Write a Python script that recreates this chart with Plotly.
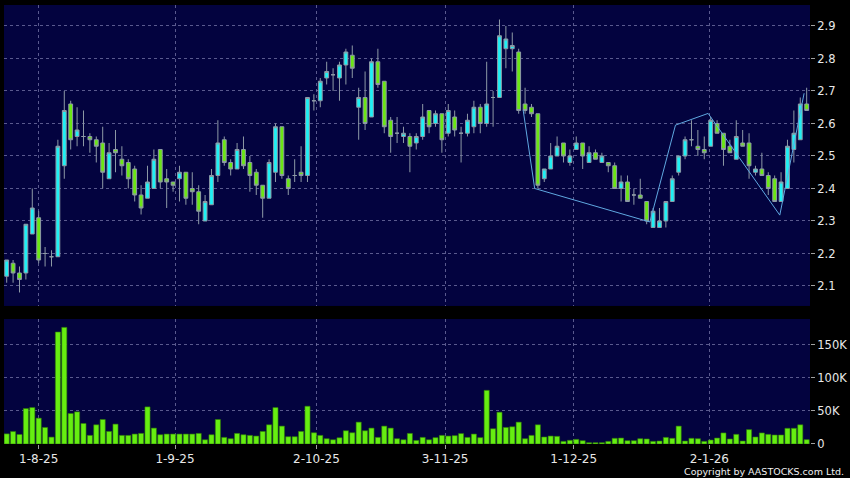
import plotly.graph_objects as go

# ---------------- data ----------------
opens = [2.13, 2.17, 2.14, 2.14, 2.26, 2.31, 2.20, 2.19, 2.19, 2.47,
         2.66, 2.56, 2.56, 2.56, 2.55, 2.54, 2.43, 2.52, 2.49, 2.48,
         2.46, 2.38, 2.37, 2.40, 2.52, 2.43, 2.42, 2.43, 2.45, 2.40,
         2.39, 2.30, 2.35, 2.44, 2.55, 2.48, 2.46, 2.52, 2.48, 2.45,
         2.41, 2.37, 2.45, 2.59, 2.43, 2.44, 2.45, 2.44, 2.67, 2.67,
         2.74, 2.75, 2.74, 2.78, 2.81, 2.65, 2.68, 2.62, 2.79, 2.73,
         2.61, 2.57, 2.56, 2.56, 2.54, 2.56, 2.64, 2.60, 2.63, 2.57,
         2.62, 2.57, 2.57, 2.59, 2.65, 2.60, 2.68, 2.68, 2.83, 2.83,
         2.82, 2.66, 2.65, 2.63, 2.43, 2.46, 2.50, 2.54, 2.48, 2.52,
         2.54, 2.48, 2.51, 2.48, 2.48, 2.47, 2.40, 2.42, 2.38, 2.38,
         2.36, 2.28, 2.28, 2.30, 2.36, 2.45, 2.50, 2.55, 2.53, 2.52,
         2.53, 2.60, 2.57, 2.53, 2.49, 2.54, 2.54, 2.45, 2.46, 2.44,
         2.43, 2.36, 2.40, 2.52, 2.55, 2.66]
highs = [2.18, 2.18, 2.16, 2.29, 2.40, 2.33, 2.22, 2.21, 2.55, 2.70,
         2.67, 2.65, 2.64, 2.57, 2.56, 2.59, 2.54, 2.58, 2.53, 2.49,
         2.47, 2.41, 2.47, 2.52, 2.52, 2.46, 2.42, 2.47, 2.45, 2.45,
         2.41, 2.38, 2.46, 2.61, 2.56, 2.49, 2.54, 2.56, 2.50, 2.46,
         2.41, 2.49, 2.60, 2.59, 2.44, 2.49, 2.53, 2.68, 2.69, 2.74,
         2.79, 2.77, 2.79, 2.83, 2.84, 2.71, 2.76, 2.80, 2.83, 2.73,
         2.62, 2.62, 2.59, 2.57, 2.57, 2.66, 2.64, 2.64, 2.63, 2.66,
         2.64, 2.59, 2.63, 2.67, 2.66, 2.79, 2.70, 2.92, 2.90, 2.88,
         2.83, 2.71, 2.66, 2.63, 2.46, 2.54, 2.56, 2.54, 2.52, 2.56,
         2.54, 2.53, 2.52, 2.51, 2.48, 2.48, 2.44, 2.44, 2.40, 2.43,
         2.36, 2.34, 2.34, 2.36, 2.44, 2.50, 2.56, 2.61, 2.58, 2.56,
         2.62, 2.61, 2.57, 2.55, 2.61, 2.58, 2.57, 2.47, 2.51, 2.45,
         2.44, 2.45, 2.55, 2.64, 2.68, 2.71]
lows = [2.11, 2.11, 2.08, 2.12, 2.26, 2.17, 2.16, 2.16, 2.19, 2.43,
        2.52, 2.53, 2.53, 2.51, 2.48, 2.40, 2.43, 2.45, 2.44, 2.40,
        2.36, 2.32, 2.37, 2.40, 2.40, 2.34, 2.39, 2.36, 2.35, 2.35,
        2.29, 2.30, 2.35, 2.42, 2.47, 2.44, 2.46, 2.46, 2.39, 2.38,
        2.31, 2.37, 2.42, 2.43, 2.38, 2.42, 2.42, 2.42, 2.64, 2.65,
        2.72, 2.70, 2.67, 2.72, 2.74, 2.55, 2.58, 2.62, 2.71, 2.57,
        2.51, 2.54, 2.54, 2.45, 2.52, 2.55, 2.57, 2.59, 2.51, 2.56,
        2.56, 2.48, 2.56, 2.57, 2.57, 2.59, 2.59, 2.68, 2.77, 2.76,
        2.63, 2.63, 2.62, 2.40, 2.42, 2.46, 2.50, 2.48, 2.47, 2.52,
        2.46, 2.48, 2.49, 2.48, 2.45, 2.40, 2.36, 2.36, 2.35, 2.37,
        2.29, 2.28, 2.28, 2.28, 2.36, 2.44, 2.49, 2.53, 2.50, 2.49,
        2.53, 2.57, 2.47, 2.51, 2.49, 2.53, 2.43, 2.44, 2.44, 2.38,
        2.36, 2.36, 2.40, 2.48, 2.55, 2.64]
closes = [2.18, 2.14, 2.12, 2.29, 2.34, 2.18, 2.20, 2.19, 2.53, 2.64,
          2.55, 2.58, 2.56, 2.55, 2.53, 2.45, 2.51, 2.51, 2.47, 2.43,
          2.38, 2.34, 2.42, 2.49, 2.42, 2.42, 2.41, 2.45, 2.37, 2.39,
          2.33, 2.36, 2.44, 2.54, 2.48, 2.46, 2.52, 2.47, 2.44, 2.41,
          2.37, 2.48, 2.59, 2.44, 2.40, 2.44, 2.44, 2.68, 2.67, 2.73,
          2.76, 2.75, 2.78, 2.82, 2.77, 2.68, 2.60, 2.79, 2.72, 2.59,
          2.56, 2.57, 2.57, 2.53, 2.56, 2.62, 2.59, 2.63, 2.55, 2.64,
          2.58, 2.57, 2.61, 2.65, 2.60, 2.66, 2.68, 2.87, 2.86, 2.84,
          2.64, 2.64, 2.63, 2.41, 2.46, 2.50, 2.53, 2.50, 2.50, 2.54,
          2.50, 2.51, 2.49, 2.50, 2.47, 2.40, 2.42, 2.36, 2.38, 2.37,
          2.30, 2.33, 2.30, 2.36, 2.43, 2.50, 2.55, 2.55, 2.52, 2.51,
          2.61, 2.57, 2.52, 2.51, 2.56, 2.53, 2.47, 2.46, 2.44, 2.40,
          2.36, 2.42, 2.53, 2.57, 2.66, 2.64]
volumes = [15300, 18800, 14400, 53500, 55000, 39000, 25000, 10400, 169000, 176000,
           46000, 48500, 31000, 13000, 29000, 37000, 19000, 30000, 13000, 13000,
           15000, 16000, 56000, 24000, 14000, 15000, 15000, 15000, 15000, 15000,
           16000, 6400, 14000, 37000, 10000, 8000, 16000, 14000, 13000, 12000,
           19000, 29000, 55000, 27000, 11000, 11000, 19000, 57000, 17000, 13000,
           8000, 6400, 9400, 20000, 17000, 33000, 20000, 24000, 10000, 27000,
           24000, 8000, 6400, 16000, 5400, 10000, 6400, 9600, 13000, 12000,
           12600, 15700, 10000, 15000, 9600, 81000, 23000, 48000, 25000, 26000,
           33000, 8000, 13000, 29000, 10600, 12000, 11600, 4000, 5600, 7000,
           5000, 2000, 2000, 2000, 4000, 8600, 9000, 5000, 5000, 8000,
           7600, 4000, 4500, 10000, 8600, 27000, 4500, 8600, 8000, 4000,
           6000, 9000, 16700, 7600, 14600, 4500, 21700, 10600, 16700, 14600,
           13600, 13600, 23700, 23700, 29000, 6600]

# trend (zig-zag) line drawn on the chart: bar position, price
zigzag_pos = [80.7, 82.5, 100.5, 104.5, 109.6, 120.8, 124.6]
zigzag_price = [2.641, 2.40, 2.297, 2.595, 2.631, 2.318, 2.693]

# date axis labels and their bar positions
tick_pos = [5.0, 26.3, 48.4, 68.5, 88.6, 109.8]
tick_text = ["1-8-25", "1-9-25", "2-10-25", "3-11-25", "1-12-25", "2-1-26"]

price_ticks = [2.1, 2.2, 2.3, 2.4, 2.5, 2.6, 2.7, 2.8, 2.9]
vol_ticks = [0, 50000, 100000, 150000]
vol_tick_text = ["0", "50K", "100K", "150K"]

# ---------------- style ----------------
BG = "#000000"
PLOT_BG = "#03033f"
CYAN = "#1ef0f5"
GREEN = "#6be614"
WICK = "#8e9aa6"
GRID = "rgba(120,120,170,0.75)"
TEXT = "#e8e8e8"
FONT = "DejaVu Sans"
DASH = "3px,3px"

idx = list(range(len(opens)))

fig = go.Figure()
fig.add_trace(go.Candlestick(
    x=idx, open=opens, high=highs, low=lows, close=closes,
    increasing=dict(fillcolor=CYAN, line=dict(color=WICK, width=1)),
    decreasing=dict(fillcolor=GREEN, line=dict(color=WICK, width=1)),
    whiskerwidth=0, xaxis="x", yaxis="y", showlegend=False, hoverinfo="skip"))
fig.add_trace(go.Scatter(
    x=zigzag_pos, y=zigzag_price, mode="lines",
    line=dict(color="#5fa8e0", width=1), xaxis="x", yaxis="y",
    showlegend=False, hoverinfo="skip"))
fig.add_trace(go.Bar(
    x=idx, y=volumes, marker=dict(color="#66ee11", line=dict(color="#2f7a08", width=0.6)),
    xaxis="x2", yaxis="y2", showlegend=False, hoverinfo="skip"))

xr = [-0.42, 125.52]
axis_common = dict(range=xr, tickvals=tick_pos, showgrid=True, gridcolor=GRID,
                   griddash=DASH, gridwidth=1, zeroline=False, showline=False)

fig.update_layout(
    width=850, height=478,
    paper_bgcolor=BG, plot_bgcolor=PLOT_BG,
    margin=dict(l=4, r=40, t=5, b=34),
    font=dict(family=FONT, color=TEXT, size=11),
    boxgap=0.15, bargap=0.2,
    xaxis=dict(anchor="y", domain=[0, 1], showticklabels=False, ticks="",
               rangeslider=dict(visible=False), **axis_common),
    xaxis2=dict(anchor="y2", domain=[0, 1], matches="x", ticktext=tick_text,
                ticks="outside", ticklen=4, tickcolor="#a0a0a0",
                tickfont=dict(size=12, color=TEXT, family=FONT), **axis_common),
    yaxis=dict(domain=[0.3144, 1], range=[2.0385, 2.9646], side="right",
               tickvals=price_ticks, ticktext=[f"{v:.1f}" for v in price_ticks],
               ticks="outside", ticklen=4, tickcolor="#a0a0a0",
               showgrid=True, gridcolor=GRID, griddash=DASH, zeroline=False,
               tickfont=dict(size=11.5, color=TEXT, family=FONT)),
    yaxis2=dict(domain=[0, 0.2847], range=[0, 188600], side="right",
                tickvals=vol_ticks, ticktext=vol_tick_text,
                ticks="outside", ticklen=4, tickcolor="#a0a0a0",
                showgrid=True, gridcolor=GRID, griddash=DASH, zeroline=False,
                tickfont=dict(size=11.5, color=TEXT, family=FONT)),
    annotations=[dict(text="Copyright by AASTOCKS.com Ltd.", xref="paper", yref="paper",
                      x=1.0447, y=-0.0635, xanchor="right", yanchor="middle",
                      showarrow=False, font=dict(size=9.5, color="#f0f0f0", family=FONT))],
)

fig.write_html(
    "out.html",
    config={"displayModeBar": False},
    post_script="document.body.style.margin='0px';document.body.style.background='#000';"
                "document.body.style.overflow='hidden';",
)
